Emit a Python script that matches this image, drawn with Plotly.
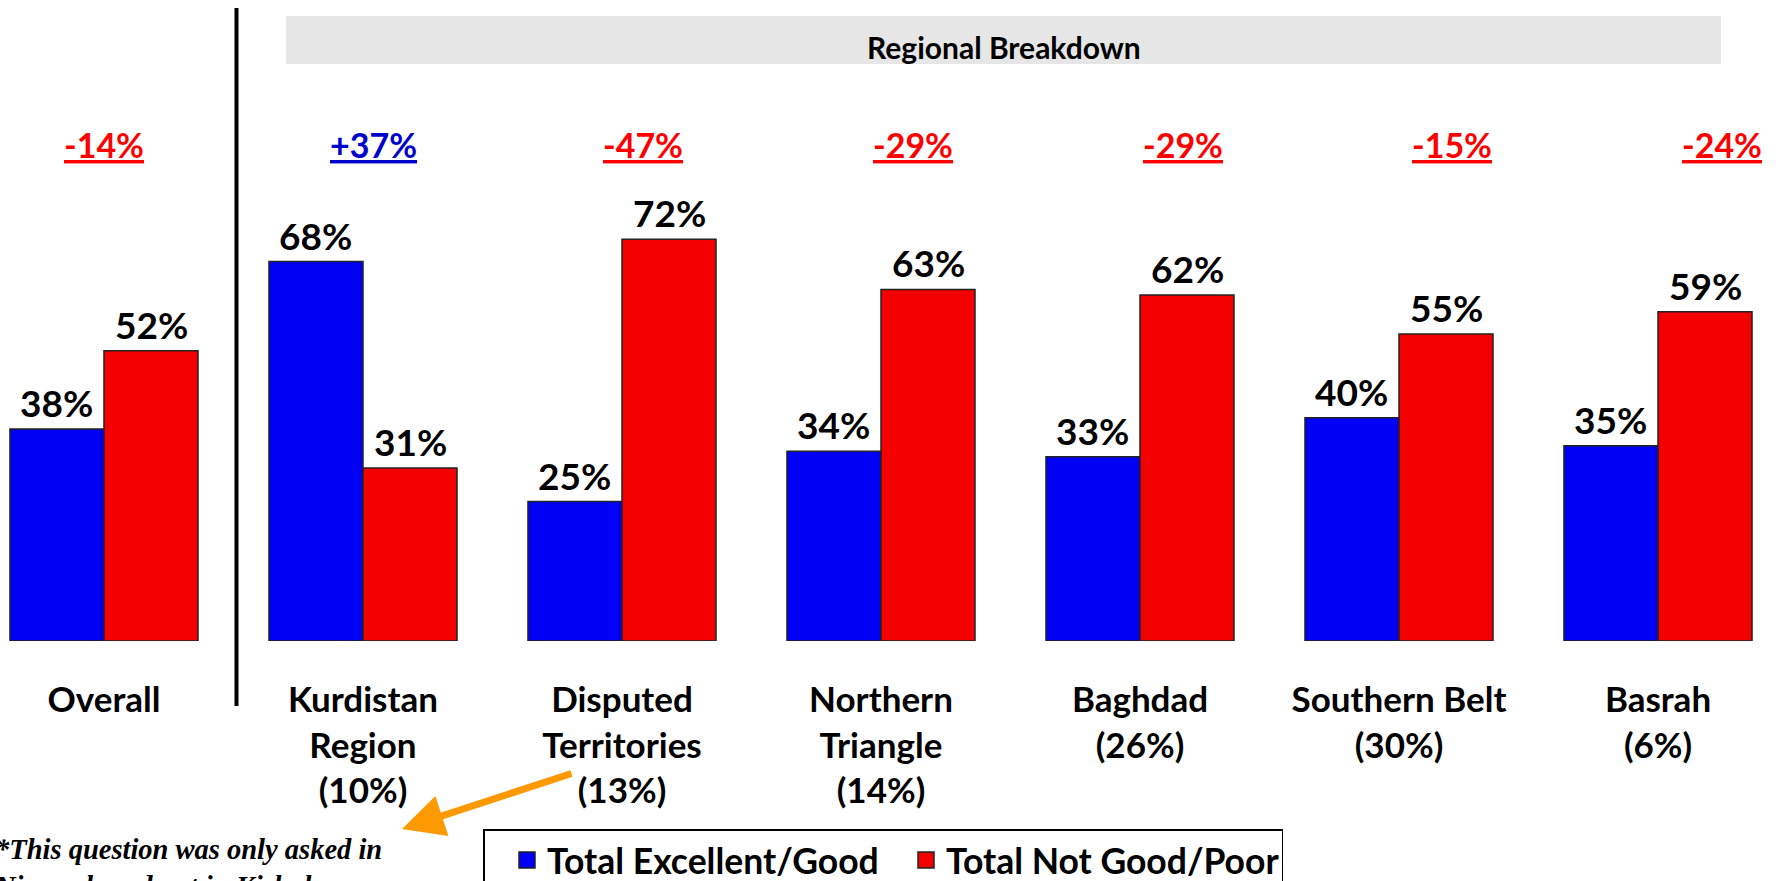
import plotly.graph_objects as go

# ---- data ----
categories = [
    "Overall",
    "Kurdistan<br>Region<br>(10%)",
    "Disputed<br>Territories<br>(13%)",
    "Northern<br>Triangle<br>(14%)",
    "Baghdad<br>(26%)",
    "Southern Belt<br>(30%)",
    "Basrah<br>(6%)",
]
excellent_good = [38, 68, 25, 34, 33, 40, 35]
not_good_poor = [52, 31, 72, 63, 62, 55, 59]
series_names = ["Total Excellent/Good", "Total Not Good/Poor"]
header_text = "Regional Breakdown"
footnote_text = "*This question was only asked in<br>Ninewah and not in Kirkuk"

# ---- layout constants ----
W, H = 1776, 881
PLOT_H = 641            # plot area height (t=0)
BARGAP = 0.274
BAR_W = (1 - BARGAP) / 2
X_RANGE = [-0.4015, 6.4556]
Y_MAX = PLOT_H / 5.58
BLUE = "#0000F5"
RED = "#F50000"
EDGE = "#222222"
FONT = "Lato"


def py(pix):
    """pixel row (from top) -> paper y"""
    return (PLOT_H - pix) / PLOT_H


def px(pix):
    return pix / W


fig = go.Figure()
for name, vals, col in [(series_names[0], excellent_good, BLUE),
                        (series_names[1], not_good_poor, RED)]:
    fig.add_trace(go.Bar(x=categories, y=vals, name=name, showlegend=False,
                         legendgroup=name,
                         marker=dict(color=col, line=dict(color=EDGE, width=1.5))))
# legend entries with larger square swatches
for name, col in [(series_names[0], BLUE), (series_names[1], RED)]:
    fig.add_trace(go.Scatter(x=[None], y=[None], mode="markers", name=name,
                             legendgroup=name, hoverinfo="skip",
                             marker=dict(symbol="square", size=16, color=col,
                                         line=dict(color=EDGE, width=1.5))))

annotations = []
# value labels above bars
for s, vals in enumerate([excellent_good, not_good_poor]):
    for i, v in enumerate(vals):
        annotations.append(dict(
            x=i + (s - 0.5) * BAR_W, y=v, xref="x", yref="y",
            text=f"{v}%", showarrow=False, yanchor="bottom", yshift=2,
            font=dict(family=FONT, size=37, color="black", weight="bold")))

# net difference labels (underlined)
for i, (a, b) in enumerate(zip(excellent_good, not_good_poor)):
    d = a - b
    txt = f"+{d}%" if d > 0 else f"{d}%"
    col = "#0000CC" if d > 0 else "#FF0000"
    annotations.append(dict(
        x=i * 1.0413, y=py(144), xref="x", yref="paper",
        text=f"<u>{txt}</u>", showarrow=False, yanchor="middle",
        font=dict(family=FONT, size=34, color=col, weight="bold")))

# header text
annotations.append(dict(
    x=px(1004), y=py(47), xref="paper", yref="paper", text=header_text,
    showarrow=False, xanchor="center", yanchor="middle",
    font=dict(family=FONT, size=30, color="black", weight="bold")))

# footnote
annotations.append(dict(
    x=px(-8), y=py(832), xref="paper", yref="paper", text=footnote_text,
    showarrow=False, xanchor="left", yanchor="top", align="left",
    font=dict(family="Liberation Serif", size=28.5, color="black",
              weight="bold", style="italic")))

# orange arrow
annotations.append(dict(
    x=px(402), y=py(829), xref="paper", yref="paper", text="",
    showarrow=True, ax=171, ay=-56, arrowcolor="#FF9900", arrowwidth=7,
    arrowhead=2, arrowsize=1.2))

shapes = [
    dict(type="rect", xref="paper", yref="paper", x0=px(286), x1=px(1721),
         y0=py(64), y1=py(16), fillcolor="#E6E6E6", line=dict(width=0), layer="below"),
    dict(type="line", xref="paper", yref="paper", x0=px(236.5), x1=px(236.5),
         y0=py(706), y1=py(8), line=dict(color="black", width=4)),
]

fig.update_layout(
    width=W, height=H,
    margin=dict(l=0, r=0, t=0, b=H - PLOT_H, autoexpand=False),
    paper_bgcolor="white", plot_bgcolor="white",
    barmode="group", bargap=BARGAP, bargroupgap=0,
    showlegend=True,
    legend=dict(orientation="h", x=px(483), xanchor="left", y=py(829), yanchor="top",
                bordercolor="black", borderwidth=1.5, bgcolor="white",
                indentation=24, entrywidth=330, itemclick=False, itemdoubleclick=False,
                font=dict(family=FONT, size=35.5, color="black", weight="bold")),
    annotations=annotations, shapes=shapes,
)
fig.update_xaxes(range=X_RANGE, showgrid=False, showline=False, zeroline=False,
                 ticks="", ticklabelstandoff=35, automargin=False,
                 tickfont=dict(family=FONT, size=35, color="black", weight="bold"))
fig.update_yaxes(range=[0, Y_MAX], visible=False, automargin=False)

fig.write_html("out.html", config={"displayModeBar": False},
               post_script="document.body.style.margin='0';document.body.style.overflow='hidden';")
